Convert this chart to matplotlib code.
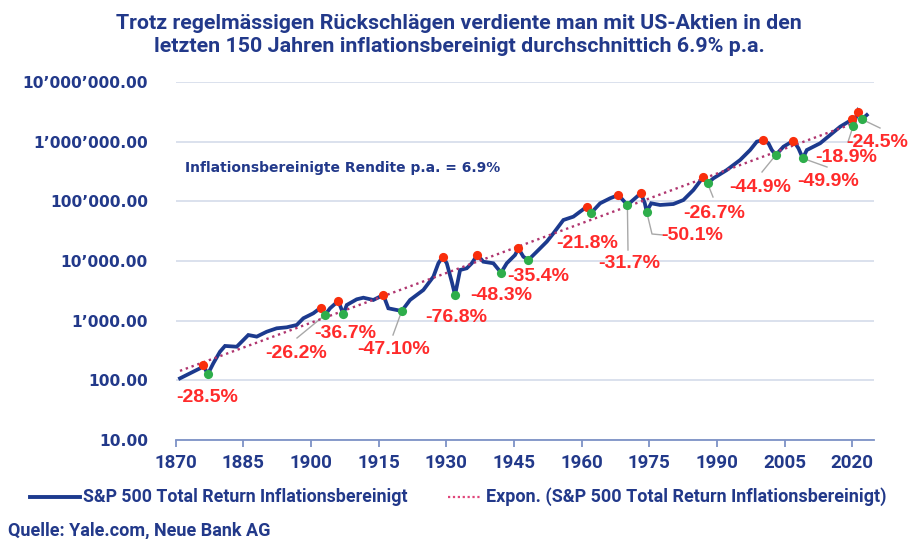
import numpy as np
import matplotlib
matplotlib.use("Agg")
import matplotlib.pyplot as plt
from matplotlib.lines import Line2D

# ---------------- data ----------------
years = [1870.95, 1873.17, 1875.39, 1876.12, 1877.10, 1878.34, 1879.82, 1880.93, 1883.53,
         1886.10, 1887.96, 1890.18, 1892.39, 1894.61, 1896.83, 1898.29, 1900.51, 1902.15,
         1903.10, 1904.21, 1906.05, 1907.16, 1907.92, 1910.13, 1911.60, 1913.81, 1916.03,
         1917.14, 1920.11, 1921.95, 1924.90, 1927.12, 1928.23, 1929.20, 1930.09, 1931.20,
         1931.93, 1933.04, 1934.52, 1935.63, 1936.87, 1938.20, 1940.42, 1942.13, 1943.39,
         1945.23, 1945.97, 1947.07, 1948.18, 1950.04, 1952.26, 1953.73, 1955.94, 1958.16,
         1961.13, 1962.02, 1964.08, 1966.30, 1968.14, 1970.13, 1971.84, 1973.10, 1974.00,
         1974.40, 1975.40, 1977.38, 1980.33, 1982.55, 1984.77, 1987.00, 1987.90, 1989.20,
         1992.17, 1995.12, 1997.34, 1998.82, 2000.15, 2001.40, 2002.15, 2003.04, 2004.72,
         2006.94, 2008.05, 2009.02, 2009.91, 2012.86, 2015.08, 2017.30, 2020.02, 2020.20,
         2021.22, 2022.11, 2023.20]
values = [108, 131, 159, 181, 126, 193, 302, 377, 366,
          575, 540, 653, 745, 774, 847, 1096, 1330, 1648,
          1245, 1611, 2138, 1294, 1832, 2280, 2427, 2223, 2692,
          1611, 1452, 2223, 3266, 5458, 9162, 11800, 9162, 4498,
          2692, 7063, 7551, 9162, 12620, 9727, 9162, 6368, 9162,
          12620, 16330, 11800, 10400, 14320, 21090, 29110, 48640, 55340,
          81280, 63100, 92680, 112500, 127600, 86900, 112500, 136500, 92680,
          67000, 92680, 86900, 90160, 105200, 154900, 258800, 200400, 243200,
          335000, 493200, 724400, 1000000, 1066000, 939700, 724400, 598400, 824100,
          1038000, 774500, 526000, 724400, 939700, 1294000, 1782000, 2371000, 1854000,
          3177000, 2371000, 2799000]

peak_years = [1876.12, 1902.15, 1906.05, 1916.03, 1929.20, 1936.87, 1945.97, 1961.13,
              1968.14, 1973.10, 1987.00, 2000.15, 2006.94, 2020.02, 2021.22]
peak_values = [181, 1648, 2138, 2692, 11800, 12620, 16330, 81280,
               127600, 136500, 258800, 1066000, 1038000, 2371000, 3177000]
trough_years = [1877.10, 1903.10, 1907.16, 1920.11, 1931.93, 1942.13, 1948.18, 1962.02,
                1970.13, 1974.40, 1987.90, 2003.04, 2009.02, 2020.20, 2022.11]
trough_values = [126, 1245, 1294, 1452, 2692, 6368, 10400, 63100,
                 86900, 67000, 200400, 598400, 526000, 1854000, 2371000]
drawdown_labels = ["-28.5%", "-26.2%", "-36.7%", "-47.10%", "-76.8%", "-48.3%", "-35.4%",
                   "-21.8%", "-31.7%", "-50.1%", "-26.7%", "-44.9%", "-49.9%", "-18.9%",
                   "-24.5%"]

xtick_years = [1870, 1885, 1900, 1915, 1930, 1945, 1960, 1975, 1990, 2005, 2020]
ytick_values = [10, 100, 1000, 10000, 100000, 1000000, 10000000]

title = ("Trotz regelmässigen Rückschlägen verdiente man mit US-Aktien in den\n"
         "letzten 150 Jahren inflationsbereinigt durchschnittich 6.9% p.a.")
series_name = "S&P 500 Total Return Inflationsbereinigt"
trend_name = "Expon. (S&P 500 Total Return Inflationsbereinigt)"
note = "Inflationsbereinigte Rendite p.a. = 6.9%"
source = "Quelle: Yale.com, Neue Bank AG"

# ---------------- layout (label placement, pixels of the 910x539 figure) ----------------
W, H = 910, 539
label_px = [(207, 397), (296, 353), (345, 333), (394, 350), (456, 318), (501, 296),
            (538, 276), (587, 243), (629, 263), (692, 236), (714, 213), (760, 187),
            (828, 181), (846, 157), (877, 142)]
# leader line end points in pixels (None = no leader)
leader_px = [None, [(297, 338)], None, [(393, 335)], None, None, None, None,
             [(628, 250)], [(652, 234), (663, 235)], [(713, 197)], [(762, 172)],
             [(827, 167)], [(848, 142)], [(880, 128)]]

NAVY = "#22398A"
LINE = "#1C3A8E"
RED_TXT = "#FF2B2B"
RED_DOT = "#F92E0C"
GREEN_DOT = "#2EAE4B"
TREND = "#B0356F"
GRID = "#D8DEEC"
AXIS = "#7D92C6"
SANS = ["Roboto", "DejaVu Sans"]

fig = plt.figure(figsize=(W / 100, H / 100), dpi=100)
ax_l, ax_r, ax_t, ax_b = 175.7, 874, 82, 440
ax = fig.add_axes([ax_l / W, 1 - ax_b / H, (ax_r - ax_l) / W, (ax_b - ax_t) / H])
ax.set_yscale("log")
ax.set_xlim(1870, 2024.8)
ax.set_ylim(10, 1e7)


def px_to_data(x, y):
    yr = 1870 + (x - ax_l) / (ax_r - ax_l) * (2024.8 - 1870)
    lv = 7 - (y - ax_t) / (ax_b - ax_t) * 6
    return yr, 10 ** lv


yrs = np.array(years)
vals = np.array(values, dtype=float)

# exponential trend (fit on the series)
coef = np.polyfit(yrs, np.log10(vals), 1)
tx = np.array([yrs[0], yrs[-1]])
ax.plot(tx, 10 ** np.polyval(coef, tx), color=TREND, lw=1.7, ls=(0, (1, 1.6)), zorder=3)

ax.plot(yrs, vals, color=LINE, lw=2.7, zorder=2, solid_joinstyle="miter")

ax.plot(peak_years, peak_values, "o", color=RED_DOT, ms=6.6, mec="none", zorder=5)
ax.plot(trough_years, trough_values, "o", color=GREEN_DOT, ms=6.6, mec="none", zorder=5)

for i, lab in enumerate(drawdown_labels):
    lx, ly = px_to_data(*label_px[i])
    ax.text(lx, ly, lab, color=RED_TXT, fontsize=14, fontweight="bold",
            family=["Liberation Sans", "DejaVu Sans"], ha="center", va="center",
            clip_on=False, zorder=6)
    if leader_px[i] is not None:
        pts = [(trough_years[i], trough_values[i])] + [px_to_data(*p) for p in leader_px[i]]
        ax.plot([p[0] for p in pts], [p[1] for p in pts], color="#A8A8A8", lw=1.0,
                clip_on=False, zorder=1)

# axes styling
ax.set_yticks(ytick_values)
ax.set_yticklabels([f"{v:,.2f}".replace(",", "\u2019") for v in ytick_values],
                   fontsize=11.2, fontweight="bold", color=NAVY, family="DejaVu Sans")
ax.yaxis.set_minor_locator(matplotlib.ticker.NullLocator())
ax.tick_params(axis="y", length=0, pad=20)
ax.set_xticks(xtick_years)
ax.set_xticklabels([str(y) for y in xtick_years], fontsize=13.5, fontweight="bold",
                   color=NAVY, family=SANS)
ax.tick_params(axis="x", length=5, width=1.3, color=AXIS, pad=5, direction="out")
for s in ["top", "right", "left"]:
    ax.spines[s].set_visible(False)
ax.spines["bottom"].set_color(AXIS)
ax.spines["bottom"].set_linewidth(1.3)
ax.grid(axis="y", color=GRID, lw=1.3)
ax.set_axisbelow(True)

ax.text(185 / W, 1 - 168 / H, note, transform=fig.transFigure, fontsize=10.0,
        fontweight="bold", color=NAVY, family="DejaVu Sans", ha="left", va="center")

fig.text(459 / W, 1 - 35 / H, title, ha="center", va="center", fontsize=15.4,
         fontweight="bold", color=NAVY, family=SANS, linespacing=1.3)

# legend (manual)
fig.add_artist(Line2D([30 / W, 80 / W], [1 - 497 / H] * 2, color=LINE, lw=2.8,
                      transform=fig.transFigure))
fig.text(83 / W, 1 - 497 / H, series_name, ha="left", va="center", fontsize=12.8,
         fontweight="bold", color=NAVY, family=SANS)
fig.add_artist(Line2D([448 / W, 480 / W], [1 - 497 / H] * 2, color="#E0457A", lw=1.6,
                      ls=(0, (1, 1.2)), transform=fig.transFigure))
fig.text(486 / W, 1 - 497 / H, trend_name, ha="left", va="center", fontsize=13.0,
         fontweight="bold", color=NAVY, family=SANS)
fig.text(8 / W, 1 - 530 / H, source, ha="left", va="center", fontsize=13,
         fontweight="bold", color=NAVY, family=SANS)

fig.savefig("out.png", dpi=100, facecolor="white")
